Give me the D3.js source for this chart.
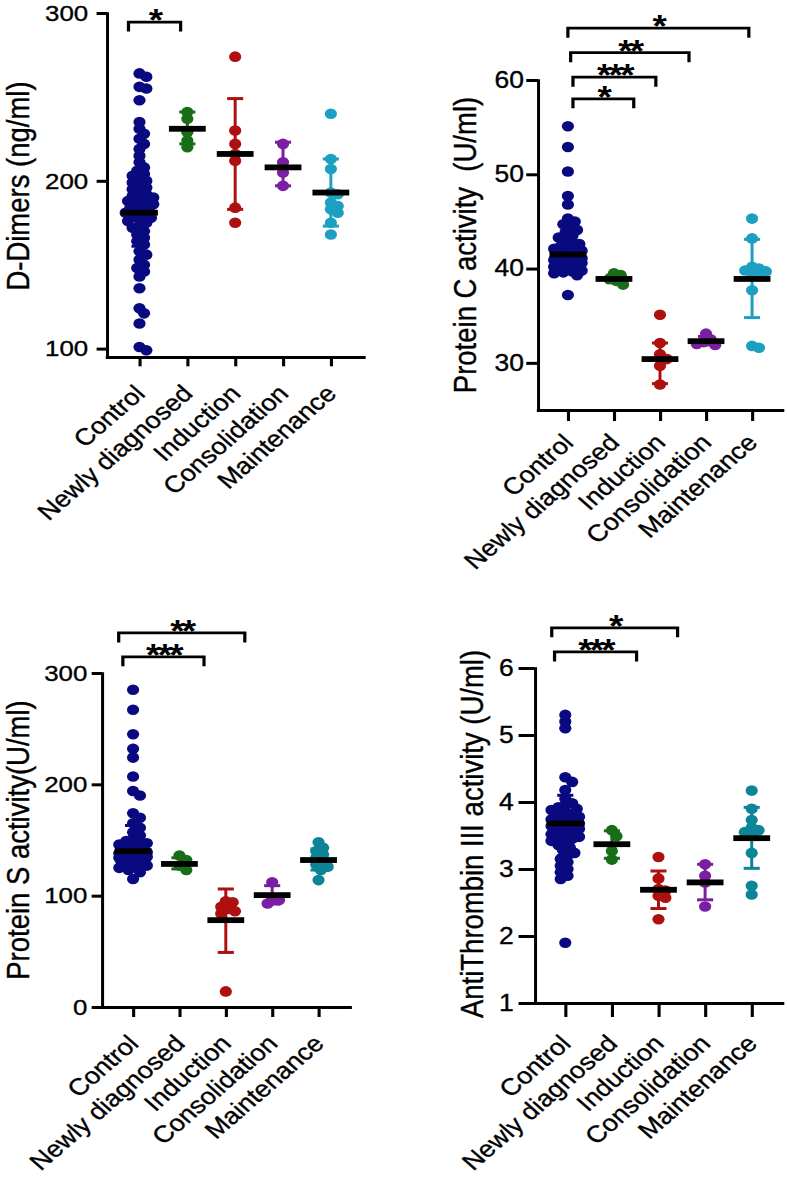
<!DOCTYPE html>
<html><head><meta charset="utf-8">
<script src="https://cdn.jsdelivr.net/npm/d3@7"></script>
<style>
html,body{margin:0;padding:0;background:#fff;}
svg{display:block;}
text{font-family:"Liberation Sans",Arial,Helvetica,sans-serif;fill:#000;}
.lbl{stroke:#000;stroke-width:0.35px;}
</style></head><body>
<svg id="chart" width="787" height="1178"></svg>
<script>
// ---------------- DATA ----------------
const categories = ["Control", "Newly diagnosed", "Induction", "Consolidation", "Maintenance"];

// D-Dimers (ng/ml)
const ddControl = [264, 262, 256, 255, 248, 235, 231, 228, 225, 222, 219, 215, 211, 208, 206, 204, 203, 201, 200, 199, 197, 196, 195, 193, 192, 191, 190, 189, 188, 188, 187, 186, 185, 184, 183, 182, 181, 180, 179, 178, 177, 176, 175, 173, 172, 170, 168, 166, 164, 162, 158, 156, 153, 150, 148, 146, 143, 136, 124, 121, 115, 101, 99];
const ddNewly = [241, 237, 229, 224, 220];
const ddInduction = [274, 230, 222, 216, 212, 184, 175];
const ddConsolidation = [222, 211, 205, 197];
const ddMaintenance = [240, 213, 207, 193, 192, 187, 185, 183, 181, 175, 168];
const ddCenter = [181, 231, 216, 208, 193];
const ddErrLow = [161, 222, 183, 197, 173];
const ddErrHigh = [201, 241, 249, 223, 213];
const ddTicks = [100, 200, 300];

// Protein C activity (U/ml)
const pcControl = [55.1, 52.9, 50.3, 47.7, 46.8, 45.3, 45.0, 44.7, 44.4, 44.1, 43.8, 43.5, 43.3, 43.0, 42.8, 42.6, 42.4, 42.2, 42.1, 42.0, 41.9, 41.8, 41.7, 41.5, 41.4, 41.3, 41.2, 41.1, 41.0, 40.9, 40.8, 40.7, 40.6, 40.5, 40.4, 40.3, 40.2, 40.1, 40.0, 39.9, 39.8, 39.7, 39.6, 39.5, 39.3, 37.2];
const pcNewly = [39.5, 39.3, 38.9, 38.7, 38.3];
const pcInduction = [35.1, 32.1, 30.9, 30.4, 29.7, 27.7];
const pcConsolidation = [33.1, 32.5, 32.2, 32.0, 31.9];
const pcMaintenance = [45.3, 43.2, 40.2, 40.0, 39.8, 39.7, 39.5, 39.3, 37.7, 31.8, 31.6];
const pcCenter = [41.5, 38.9, 30.4, 32.3, 38.9];
const pcErrLow = [39.5, 38.5, 27.8, 31.9, 34.8];
const pcErrHigh = [44.0, 39.3, 32.1, 32.8, 43.1];
const pcTicks = [30, 40, 50, 60];

// Protein S activity (U/ml)
const psControl = [285, 267, 245, 232, 224, 207, 194, 190, 174, 170, 165, 161, 157, 154, 151, 149, 148, 147, 146, 145, 144, 143, 142, 141, 140, 139, 138, 138, 137, 136, 136, 135, 134, 134, 133, 132, 132, 131, 130, 130, 129, 128, 128, 127, 126, 125, 123, 121, 115];
const psNewly = [136, 132, 127, 123];
const psInduction = [95, 94, 90, 88, 86, 84, 14];
const psConsolidation = [112, 98, 96, 93];
const psMaintenance = [148, 143, 140, 137, 134, 131, 128, 126, 123, 114];
const psCenter = [140, 128.5, 78, 100.5, 132];
const psErrLow = [126, 124, 49, 92.5, 123];
const psErrHigh = [163, 134, 106, 109, 142];
const psTicks = [0, 100, 200, 300];

// AntiThrombin III activity (U/ml)
const atControl = [5.3, 5.2, 5.1, 4.37, 4.3, 4.18, 4.05, 3.98, 3.95, 3.92, 3.9, 3.88, 3.85, 3.82, 3.8, 3.78, 3.75, 3.74, 3.72, 3.7, 3.68, 3.66, 3.64, 3.63, 3.62, 3.6, 3.58, 3.56, 3.55, 3.54, 3.52, 3.5, 3.48, 3.46, 3.45, 3.42, 3.4, 3.36, 3.32, 3.28, 3.24, 3.2, 3.15, 3.1, 3.05, 3.0, 2.95, 2.9, 2.85, 1.9];
const atNewly = [3.58, 3.49, 3.27, 3.14];
const atInduction = [3.18, 2.86, 2.7, 2.68, 2.6, 2.57, 2.25];
const atConsolidation = [3.07, 2.9, 2.8, 2.44];
const atMaintenance = [4.17, 3.9, 3.73, 3.62, 3.58, 3.55, 3.5, 3.24, 2.75, 2.62];
const atCenter = [3.68, 3.37, 2.69, 2.8, 3.46];
const atErrLow = [3.2, 3.16, 2.41, 2.54, 3.01];
const atErrHigh = [4.1, 3.57, 2.97, 3.07, 3.92];
const atTicks = [1, 2, 3, 4, 5, 6];

// significance brackets (positions in category-index units, level in data units)
const ddBrackets = [{from: -0.23, to: 0.86, level: 294.6, label: "*"}];
const pcBrackets = [
  {from: 0.0, to: 3.93, level: 65.5, label: "*"},
  {from: 0.06, to: 2.63, level: 62.9, label: "**"},
  {from: 0.11, to: 1.91, level: 60.3, label: "***"},
  {from: 0.11, to: 1.43, level: 58.0, label: "*"}
];
const psBrackets = [
  {from: -0.31, to: 2.41, level: 336, label: "**"},
  {from: -0.22, to: 1.53, level: 314.5, label: "***"}
];
const atBrackets = [
  {from: -0.29, to: 2.41, level: 6.60, label: "*"},
  {from: -0.23, to: 1.53, level: 6.24, label: "***"}
];

const colorsTop = ["#0a0a80", "#176e17", "#ae0f0f", "#7b1fa2", "#1c9fc1"];
const colorsBottom = ["#0a0a80", "#176e17", "#ae0f0f", "#7b1fa2", "#0c8598"];

// ---------------- DRAWING ----------------
const SX = 1.15; // horizontal stretch of the original figure
const svg = d3.select("#chart");
const root = svg.append("g").attr("transform", `scale(${SX},1)`);

function swarm(values, y, minD, step, maxOff) {
  const pts = values.map(v => ({v, py: y(v), dx: 0})).sort((a, b) => a.py - b.py);
  const placed = [];
  for (const p of pts) {
    let best = null, fallback = 0, bestScore = -1;
    const nk = Math.floor(maxOff / step);
    for (let k = 0; k <= nk && best === null; k++) {
      const cands = k === 0 ? [0] : [k * step, -k * step];
      for (const s of cands) {
        let mind = Infinity;
        for (const q of placed) {
          const d = Math.hypot((q.dx - s) * SX, q.py - p.py);
          if (d < mind) mind = d;
        }
        if (mind >= minD) { best = s; break; }
        if (mind > bestScore) { bestScore = mind; fallback = s; }
      }
    }
    p.dx = best !== null ? best : fallback;
    placed.push(p);
  }
  return pts;
}

function drawPanel(cfg) {
  const g = root.append("g");
  const x = d3.scalePoint().domain(categories).range([cfg.axisX, cfg.axisEnd]).padding(cfg.pad);
  const y = d3.scaleLinear().domain(cfg.yDomain).range(cfg.yRange);
  const xi = d3.scaleLinear().domain([0, categories.length - 1])
    .range([x(categories[0]), x(categories[categories.length - 1])]);
  const baseY = cfg.yRange[0];

  // y axis
  const ya = g.append("g").attr("transform", `translate(${cfg.axisX},0)`)
    .call(d3.axisLeft(y).tickValues(cfg.ticks).tickSize(cfg.tickLen).tickSizeOuter(0)
      .tickPadding(cfg.gap).tickFormat(d3.format("d")));
  ya.select(".domain").attr("stroke-width", 2.6).attr("stroke-linecap", "square");
  ya.selectAll(".tick line").attr("stroke-width", 3);
  ya.selectAll(".tick text").attr("class", "lbl").style("font-size", cfg.tickFont + "px")
    .attr("font-family", null).attr("fill", "#000");

  // x axis
  const xa = g.append("g").attr("transform", `translate(0,${baseY})`)
    .call(d3.axisBottom(x).tickSize(cfg.xTickLen).tickSizeOuter(0).tickFormat(""));
  xa.select(".domain").attr("stroke-width", 3).attr("stroke-linecap", "square");
  xa.selectAll(".tick line").attr("stroke-width", 2.7);

  // x labels
  g.selectAll(".xl").data(categories).join("text").attr("class", "xl lbl")
    .attr("text-anchor", "end")
    .attr("transform", d => `translate(${x(d) + cfg.lblDx},${baseY + cfg.lblDy}) rotate(-45)`)
    .style("font-size", "23.5px")
    .text(d => d);

  // y title
  g.append("text").attr("class", "lbl")
    .attr("transform", `translate(${cfg.titleX},${cfg.titleY}) rotate(-90)`)
    .attr("text-anchor", "middle")
    .style("font-size", "27.5px")
    .style("white-space", "pre")
    .text(cfg.title);

  // groups
  cfg.groups.forEach((vals, i) => {
    const cx = x(categories[i]);
    const col = cfg.colors[i];
    const gg = g.append("g");
    // error bar
    const lo = y(cfg.errLow[i]), hi = y(cfg.errHigh[i]);
    gg.append("line").attr("x1", cx).attr("x2", cx).attr("y1", lo).attr("y2", hi)
      .attr("stroke", col).attr("stroke-width", 2.6);
    [lo, hi].forEach(yy => gg.append("line").attr("x1", cx - 7).attr("x2", cx + 7)
      .attr("y1", yy).attr("y2", yy).attr("stroke", col).attr("stroke-width", 3));
    // dots
    const pts = swarm(vals, y, 6.6, 2, 12);
    gg.selectAll("circle").data(pts).join("circle")
      .attr("cx", d => cx + d.dx).attr("cy", d => d.py).attr("r", 5.3)
      .attr("fill", col);
    // center line
    gg.append("rect").attr("x", cx - 16).attr("y", y(cfg.center[i]) - 2.9)
      .attr("width", 32).attr("height", 5.8).attr("fill", "#000");
  });

  // brackets
  cfg.brackets.forEach(b => {
    const x1 = xi(b.from), x2 = xi(b.to), yl = y(b.level);
    g.append("path")
      .attr("d", `M${x1},${yl + 9.5}V${yl}H${x2}V${yl + 9.5}`)
      .attr("fill", "none").attr("stroke", "#000").attr("stroke-width", 2.8);
    g.append("text").attr("x", (x1 + x2) / 2).attr("y", yl + 9)
      .attr("text-anchor", "middle")
      .style("font-size", "32px").style("font-weight", "bold").style("letter-spacing", "-2.4px")
      .text(b.label);
  });
}

drawPanel({
  axisX: 93, axisEnd: 316, pad: 0.68, yDomain: [95, 300], yRange: [357, 13], ticks: ddTicks,
  tickLen: 9, gap: 7.3, tickFont: 22.5, xTickLen: 9.3, lblDx: 6, lblDy: 38,
  title: "D-Dimers (ng/ml)", titleX: 25, titleY: 186,
  groups: [ddControl, ddNewly, ddInduction, ddConsolidation, ddMaintenance],
  center: ddCenter, errLow: ddErrLow, errHigh: ddErrHigh, brackets: ddBrackets, colors: colorsTop
});
drawPanel({
  axisX: 467.8, axisEnd: 680, pad: 0.65, yDomain: [25, 60], yRange: [410, 80], ticks: pcTicks,
  tickLen: 10.2, gap: 2, tickFont: 23, xTickLen: 11, lblDx: 6, lblDy: 34,
  title: "Protein C activity  (U/ml)", titleX: 414, titleY: 245,
  groups: [pcControl, pcNewly, pcInduction, pcConsolidation, pcMaintenance],
  center: pcCenter, errLow: pcErrLow, errHigh: pcErrHigh, brackets: pcBrackets, colors: colorsTop
});
drawPanel({
  axisX: 88.7, axisEnd: 304, pad: 0.67, yDomain: [0, 300], yRange: [1007, 673], ticks: psTicks,
  tickLen: 9, gap: 3.8, tickFont: 22.5, xTickLen: 10, lblDx: 6, lblDy: 38,
  title: "Protein S activity(U/ml)", titleX: 25, titleY: 840,
  groups: [psControl, psNewly, psInduction, psConsolidation, psMaintenance],
  center: psCenter, errLow: psErrLow, errHigh: psErrHigh, brackets: psBrackets, colors: colorsBottom
});
drawPanel({
  axisX: 465.2, axisEnd: 680, pad: 0.65, yDomain: [1, 6], yRange: [1003, 668], ticks: atTicks,
  tickLen: 14.3, gap: 4.3, tickFont: 23, xTickLen: 14, lblDx: 6, lblDy: 42,
  title: "AntiThrombin III activity (U/ml)", titleX: 420, titleY: 834,
  groups: [atControl, atNewly, atInduction, atConsolidation, atMaintenance],
  center: atCenter, errLow: atErrLow, errHigh: atErrHigh, brackets: atBrackets, colors: colorsBottom
});
</script>
</body></html>
